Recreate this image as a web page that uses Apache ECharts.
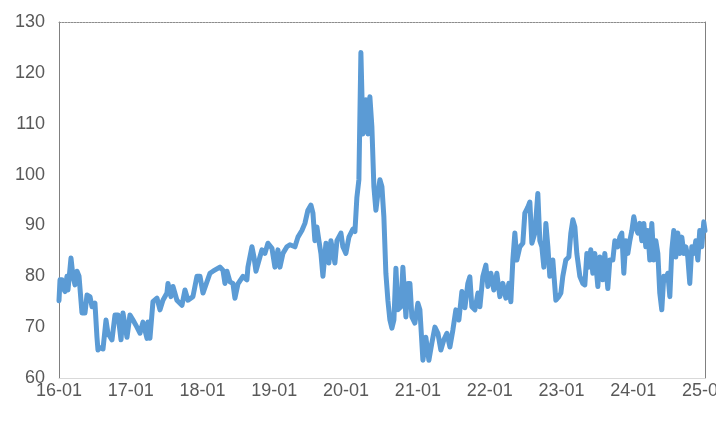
<!DOCTYPE html>
<html>
<head>
<meta charset="utf-8">
<script src="https://cdn.jsdelivr.net/npm/echarts@6/dist/echarts.min.js"></script>
<style>
html,body{margin:0;padding:0;background:#fff;}
#c{width:716px;height:426px;}
</style>
</head>
<body>
<div id="c"></div>
<script>
// Time as fractional years (2016.0 = Jan 2016)
var yearFrac = [
2016.000,2016.014,2016.042,2016.063,2016.084,2016.111,2016.125,2016.167,2016.195,2016.223,2016.251,2016.279,
2016.320,2016.362,2016.390,2016.432,2016.460,2016.501,2016.529,2016.543,2016.571,2016.613,2016.655,2016.682,
2016.738,2016.780,2016.822,2016.864,2016.891,2016.947,2016.989,
2017.031,2017.086,2017.128,2017.170,2017.226,2017.240,2017.267,2017.309,2017.365,2017.407,2017.448,2017.504,
2017.518,2017.560,2017.588,2017.643,2017.713,2017.755,2017.797,2017.866,2017.922,2017.964,
2018.006,2018.103,2018.145,2018.242,2018.284,2018.312,2018.340,2018.382,2018.423,2018.451,2018.493,2018.563,
2018.618,2018.632,2018.688,2018.716,2018.744,2018.799,2018.827,2018.869,2018.911,2018.967,
2019.008,2019.050,2019.078,2019.120,2019.175,2019.217,2019.287,2019.329,2019.384,2019.426,2019.468,2019.510,
2019.538,2019.565,2019.593,2019.621,2019.649,2019.677,2019.719,2019.760,2019.788,2019.844,2019.872,2019.928,
2019.955,2019.997,
2020.039,2020.095,2020.123,2020.150,2020.178,2020.206,2020.234,2020.276,2020.304,2020.331,2020.359,2020.387,
2020.415,2020.443,2020.471,2020.499,2020.526,2020.554,2020.582,2020.610,2020.638,2020.666,2020.694,2020.721,
2020.763,2020.791,2020.833,2020.861,2020.889,2020.916,2020.958,
2021.000,2021.028,2021.070,2021.111,2021.153,2021.195,2021.237,2021.279,2021.320,2021.362,2021.404,2021.446,
2021.487,2021.529,2021.571,2021.613,2021.655,2021.696,2021.724,2021.752,2021.794,2021.836,2021.864,2021.905,
2021.947,2021.975,
2022.017,2022.058,2022.100,2022.142,2022.184,2022.226,2022.267,2022.295,2022.323,2022.351,2022.379,2022.421,
2022.462,2022.490,2022.532,2022.560,2022.588,2022.630,2022.671,2022.699,2022.727,2022.755,2022.783,2022.811,
2022.838,2022.880,2022.922,2022.964,2022.992,
2023.019,2023.061,2023.103,2023.131,2023.159,2023.187,2023.214,2023.256,2023.298,2023.326,2023.354,2023.382,
2023.409,2023.437,2023.465,2023.507,2023.535,2023.577,2023.604,2023.646,2023.674,2023.716,2023.744,2023.786,
2023.813,2023.841,2023.869,2023.897,2023.925,2023.953,2023.981,
2024.008,2024.036,2024.064,2024.092,2024.120,2024.148,2024.175,2024.203,2024.231,2024.259,2024.287,2024.315,
2024.343,2024.370,2024.398,2024.426,2024.454,2024.482,2024.510,2024.538,2024.565,2024.593,2024.621,2024.649,
2024.677,2024.705,2024.733,2024.760,2024.788,2024.816,2024.844,2024.872,2024.900,2024.927,2024.955,2024.983,
2025.000
];
var values = [
75.2,79.3,79.3,77.5,77.0,80.0,77.3,83.6,80.0,78.3,81.0,80.0,
72.8,72.8,76.3,76.0,74.0,74.7,68.0,65.5,66.0,65.7,71.4,68.8,
67.5,72.4,72.4,67.5,72.8,68.0,72.4,
71.4,70.0,68.8,71.0,67.8,71.0,67.8,75.0,75.7,73.4,75.3,76.7,
78.6,76.0,78.0,75.3,74.3,77.3,75.3,76.0,80.0,80.0,
76.7,80.6,81.0,81.8,81.2,78.6,81.0,78.9,78.6,75.7,78.5,80.0,
79.3,81.8,85.8,83.8,81.0,83.8,85.2,84.5,86.5,85.5,
81.8,85.2,81.8,84.5,85.8,86.2,85.8,87.7,89.0,90.4,93.0,94.0,
92.4,87.0,89.7,87.0,84.5,80.0,86.5,82.6,87.0,82.6,87.0,88.5,
85.8,84.5,
87.7,89.3,88.8,95.5,99.0,124.0,108.0,114.7,108.0,115.3,109.4,97.6,
93.0,96.3,99.0,97.6,91.7,80.6,75.3,71.4,69.8,71.4,81.6,73.4,
74.0,81.8,72.0,78.6,78.6,72.0,70.8,
74.7,73.4,63.5,68.0,63.5,66.9,70.0,68.8,65.5,67.5,68.8,66.1,
69.4,73.4,71.4,77.0,73.8,78.6,79.9,74.0,73.4,76.7,74.0,80.0,
82.2,78.0,
80.6,77.3,80.6,76.0,78.6,75.7,78.6,75.0,83.2,88.5,83.2,85.8,
86.5,92.4,93.6,94.6,86.5,88.5,96.3,87.0,85.8,81.8,90.4,85.8,
80.0,83.2,75.3,76.0,76.7,
80.0,83.2,83.8,88.5,91.1,89.7,84.5,80.0,78.6,78.3,84.5,81.8,
85.2,80.6,84.5,78.0,83.8,79.3,84.5,77.6,83.2,83.2,87.0,85.8,
87.7,88.5,80.6,87.0,84.5,87.0,89.0,
91.7,89.7,88.5,90.4,87.0,90.4,85.8,89.0,83.2,90.4,83.2,87.0,
84.5,76.7,73.4,80.0,79.3,80.6,76.0,85.2,89.0,83.8,88.5,84.5,
87.7,84.5,85.8,83.8,78.6,85.8,84.5,87.0,83.2,89.0,85.8,90.7,
89.0
];
var yTicks = [60,70,80,90,100,110,120,130];

var chart = echarts.init(document.getElementById('c'), null, {renderer:'canvas'});
var pts = yearFrac.map(function(t,i){return [t, values[i]];});
var labelFont = {fontFamily:'Liberation Sans, Arial, sans-serif', fontSize:18, color:'#595959'};
chart.setOption({
  animation:false,
  backgroundColor:'#fff',
  grid:{left:59, right:11, top:22, bottom:48, containLabel:false, outerBoundsMode:'none'},
  xAxis:[{
    type:'value', min:2016, max:2025, interval:1,
    axisLine:{show:true, onZero:false, lineStyle:{color:'#d9d9d9', width:1}},
    axisTick:{show:false},
    splitLine:{show:false},
    axisLabel:Object.assign({margin:4, showMaxLabel:true, showMinLabel:true, hideOverlap:false,
      formatter:function(v){return String(Math.round(v)-2000)+'-01';}}, labelFont)
  },{
    type:'value', min:2016, max:2025, position:'top',
    axisLine:{show:true, lineStyle:{color:'#8c8c8c', width:1, type:[2,1]}},
    axisTick:{show:false}, axisLabel:{show:false}, splitLine:{show:false}
  }],
  yAxis:[{
    type:'value', min:yTicks[0], max:yTicks[yTicks.length-1], interval:10,
    axisLine:{show:true, lineStyle:{color:'#808080', width:1}},
    axisTick:{show:false},
    splitLine:{show:false},
    axisLabel:Object.assign({margin:14}, labelFont)
  },{
    type:'value', min:60, max:130, position:'right',
    axisLine:{show:true, lineStyle:{color:'#808080', width:1}},
    axisTick:{show:false}, axisLabel:{show:false}, splitLine:{show:false}
  }],
  series:[{
    type:'line',
    data:pts,
    showSymbol:false,
    symbol:'none',
    lineStyle:{color:'#5B9BD5', width:5, join:'round', cap:'round'},
    smooth:false
  }]
});
</script>
</body>
</html>
